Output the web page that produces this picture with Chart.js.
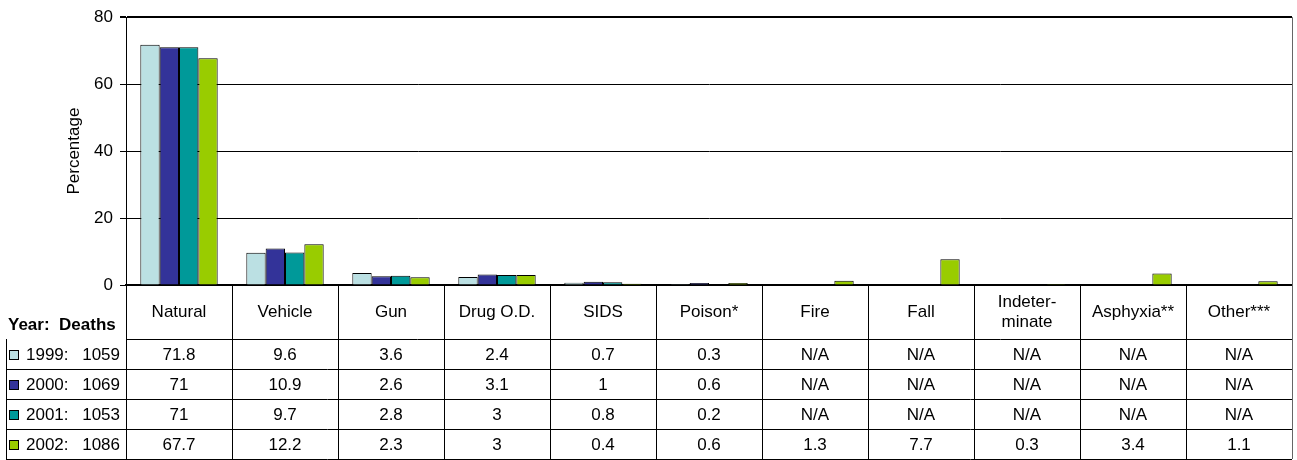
<!DOCTYPE html>
<html>
<head>
<meta charset="utf-8">
<script src="https://cdn.jsdelivr.net/npm/chart.js"></script>
<style>
    body { margin: 0; background: #ffffff; }
    #wrap { width: 1297px; height: 460px; }
</style>
</head>
<body>
<div id="wrap"><canvas id="deathsChart" width="1297" height="460"></canvas></div>
<script>
// Chart data
const categories = ["Natural", "Vehicle", "Gun", "Drug O.D.", "SIDS", "Poison*", "Fire", "Fall", "Indeterminate", "Asphyxia**", "Other***"];
const headerLabels = [["Natural"], ["Vehicle"], ["Gun"], ["Drug O.D."], ["SIDS"], ["Poison*"], ["Fire"], ["Fall"], ["Indeter-", "minate"], ["Asphyxia**"], ["Other***"]];
const years = ["1999", "2000", "2001", "2002"];
const deaths = [1059, 1069, 1053, 1086];
const values1999 = [71.8, 9.6, 3.6, 2.4, 0.7, 0.3, null, null, null, null, null];
const values2000 = [71, 10.9, 2.6, 3.1, 1, 0.6, null, null, null, null, null];
const values2001 = [71, 9.7, 2.8, 3, 0.8, 0.2, null, null, null, null, null];
const values2002 = [67.7, 12.2, 2.3, 3, 0.4, 0.6, 1.3, 7.7, 0.3, 3.4, 1.1];
const yTicks = [0, 20, 40, 60, 80];

const colors = ["#bbe0e3", "#333399", "#009999", "#99cc00"];
const FONT = "'Liberation Sans', Arial, sans-serif";

var seriesValues = [values1999, values2000, values2001, values2002];

// Data table under the plot, lined up with the x scale
const tablePlugin = {
    id: "dataTable",
    afterDraw(chart) {
        var ctx = chart.ctx;
        var area = chart.chartArea;
        var xScale = chart.scales.x;
        var catW = (area.right - area.left) / categories.length;
        var headTop = area.bottom;
        var headBottom = area.bottom + 54;
        var rowH = 30;
        var tableBottom = headBottom + rowH * years.length;
        var legendLeft = 6;

        ctx.save();
        ctx.strokeStyle = "#000000";
        ctx.lineWidth = 1;

        // vertical lines
        ctx.beginPath();
        for (var i = 0; i <= categories.length; i++) {
            var x = Math.round(area.left + i * catW) + 0.5;
            ctx.moveTo(x, headTop);
            ctx.lineTo(x, tableBottom);
        }
        ctx.moveTo(legendLeft + 0.5, headBottom);
        ctx.lineTo(legendLeft + 0.5, tableBottom);
        // horizontal lines
        ctx.moveTo(area.left, headBottom + 0.5);
        ctx.lineTo(area.right, headBottom + 0.5);
        for (var r = 0; r < years.length; r++) {
            var y = headBottom + rowH * (r + 1) + 0.5;
            ctx.moveTo(legendLeft, y);
            ctx.lineTo(area.right, y);
        }
        ctx.stroke();

        // right border of plot + table
        ctx.strokeStyle = "#666666";
        ctx.beginPath();
        ctx.moveTo(Math.round(area.right) + 0.5, area.top);
        ctx.lineTo(Math.round(area.right) + 0.5, tableBottom);
        ctx.stroke();

        ctx.fillStyle = "#000000";
        ctx.textBaseline = "middle";

        // header row
        ctx.font = "17px " + FONT;
        ctx.textAlign = "center";
        for (var i = 0; i < categories.length; i++) {
            var cx = xScale.getPixelForValue(i);
            var lines = headerLabels[i];
            var cy = (headTop + headBottom) / 2 - (lines.length - 1) * 10;
            for (var l = 0; l < lines.length; l++) {
                ctx.fillText(lines[l], cx, cy + l * 20);
            }
        }
        ctx.font = "bold 17px " + FONT;
        ctx.textAlign = "left";
        ctx.fillText("Year:  Deaths", 8, headBottom - 14);

        // data rows
        for (var r = 0; r < years.length; r++) {
            var cy = headBottom + rowH * r + rowH / 2 + 1;
            // legend swatch
            ctx.fillStyle = colors[r];
            ctx.fillRect(9, cy - 5, 10, 10);
            ctx.strokeStyle = "#000000";
            ctx.strokeRect(9.5, cy - 4.5, 9, 9);
            ctx.fillStyle = "#000000";
            ctx.font = "17px " + FONT;
            ctx.textAlign = "left";
            ctx.fillText(years[r] + ":", 26, cy);
            ctx.textAlign = "right";
            ctx.fillText(String(deaths[r]), 120, cy);
            ctx.textAlign = "center";
            for (var i = 0; i < categories.length; i++) {
                var v = seriesValues[r][i];
                ctx.fillText(v === null ? "N/A" : String(v), xScale.getPixelForValue(i), cy);
            }
        }
        ctx.restore();
    }
};

var datasets = [];
for (var s = 0; s < years.length; s++) {
    datasets.push({
        label: years[s],
        data: seriesValues[s],
        backgroundColor: colors[s],
        borderColor: "#000000",
        borderWidth: 1,
        categoryPercentage: 0.73,
        barPercentage: 1
    });
}

new Chart(document.getElementById("deathsChart"), {
    type: "bar",
    data: { labels: categories, datasets: datasets },
    options: {
        responsive: false,
        animation: false,
        layout: { padding: { left: 0, top: 15, right: 5, bottom: 175 } },
        plugins: { legend: { display: false }, tooltip: { enabled: false } },
        scales: {
            x: {
                ticks: { display: false },
                grid: { display: false, drawTicks: false },
                border: { color: "#000000", width: 2 },
                afterFit: function (scale) { scale.height = 0; }
            },
            y: {
                min: 0,
                max: 80,
                afterBuildTicks: function (scale) {
                    scale.ticks = yTicks.map(function (v) { return { value: v }; });
                },
                ticks: { color: "#000000", padding: 7, font: { family: FONT, size: 17 } },
                grid: {
                    color: "#000000",
                    tickLength: 6,
                    lineWidth: function (c) { return c.tick && c.tick.value === 80 ? 2 : 1; }
                },
                border: { color: "#000000", width: 1 },
                title: {
                    display: true,
                    text: "Percentage",
                    color: "#000000",
                    font: { family: FONT, size: 17 },
                    padding: { top: 64, bottom: 0 }
                },
                afterFit: function (scale) { scale.width = 126; }
            }
        }
    },
    plugins: [tablePlugin]
});
</script>
</body>
</html>
